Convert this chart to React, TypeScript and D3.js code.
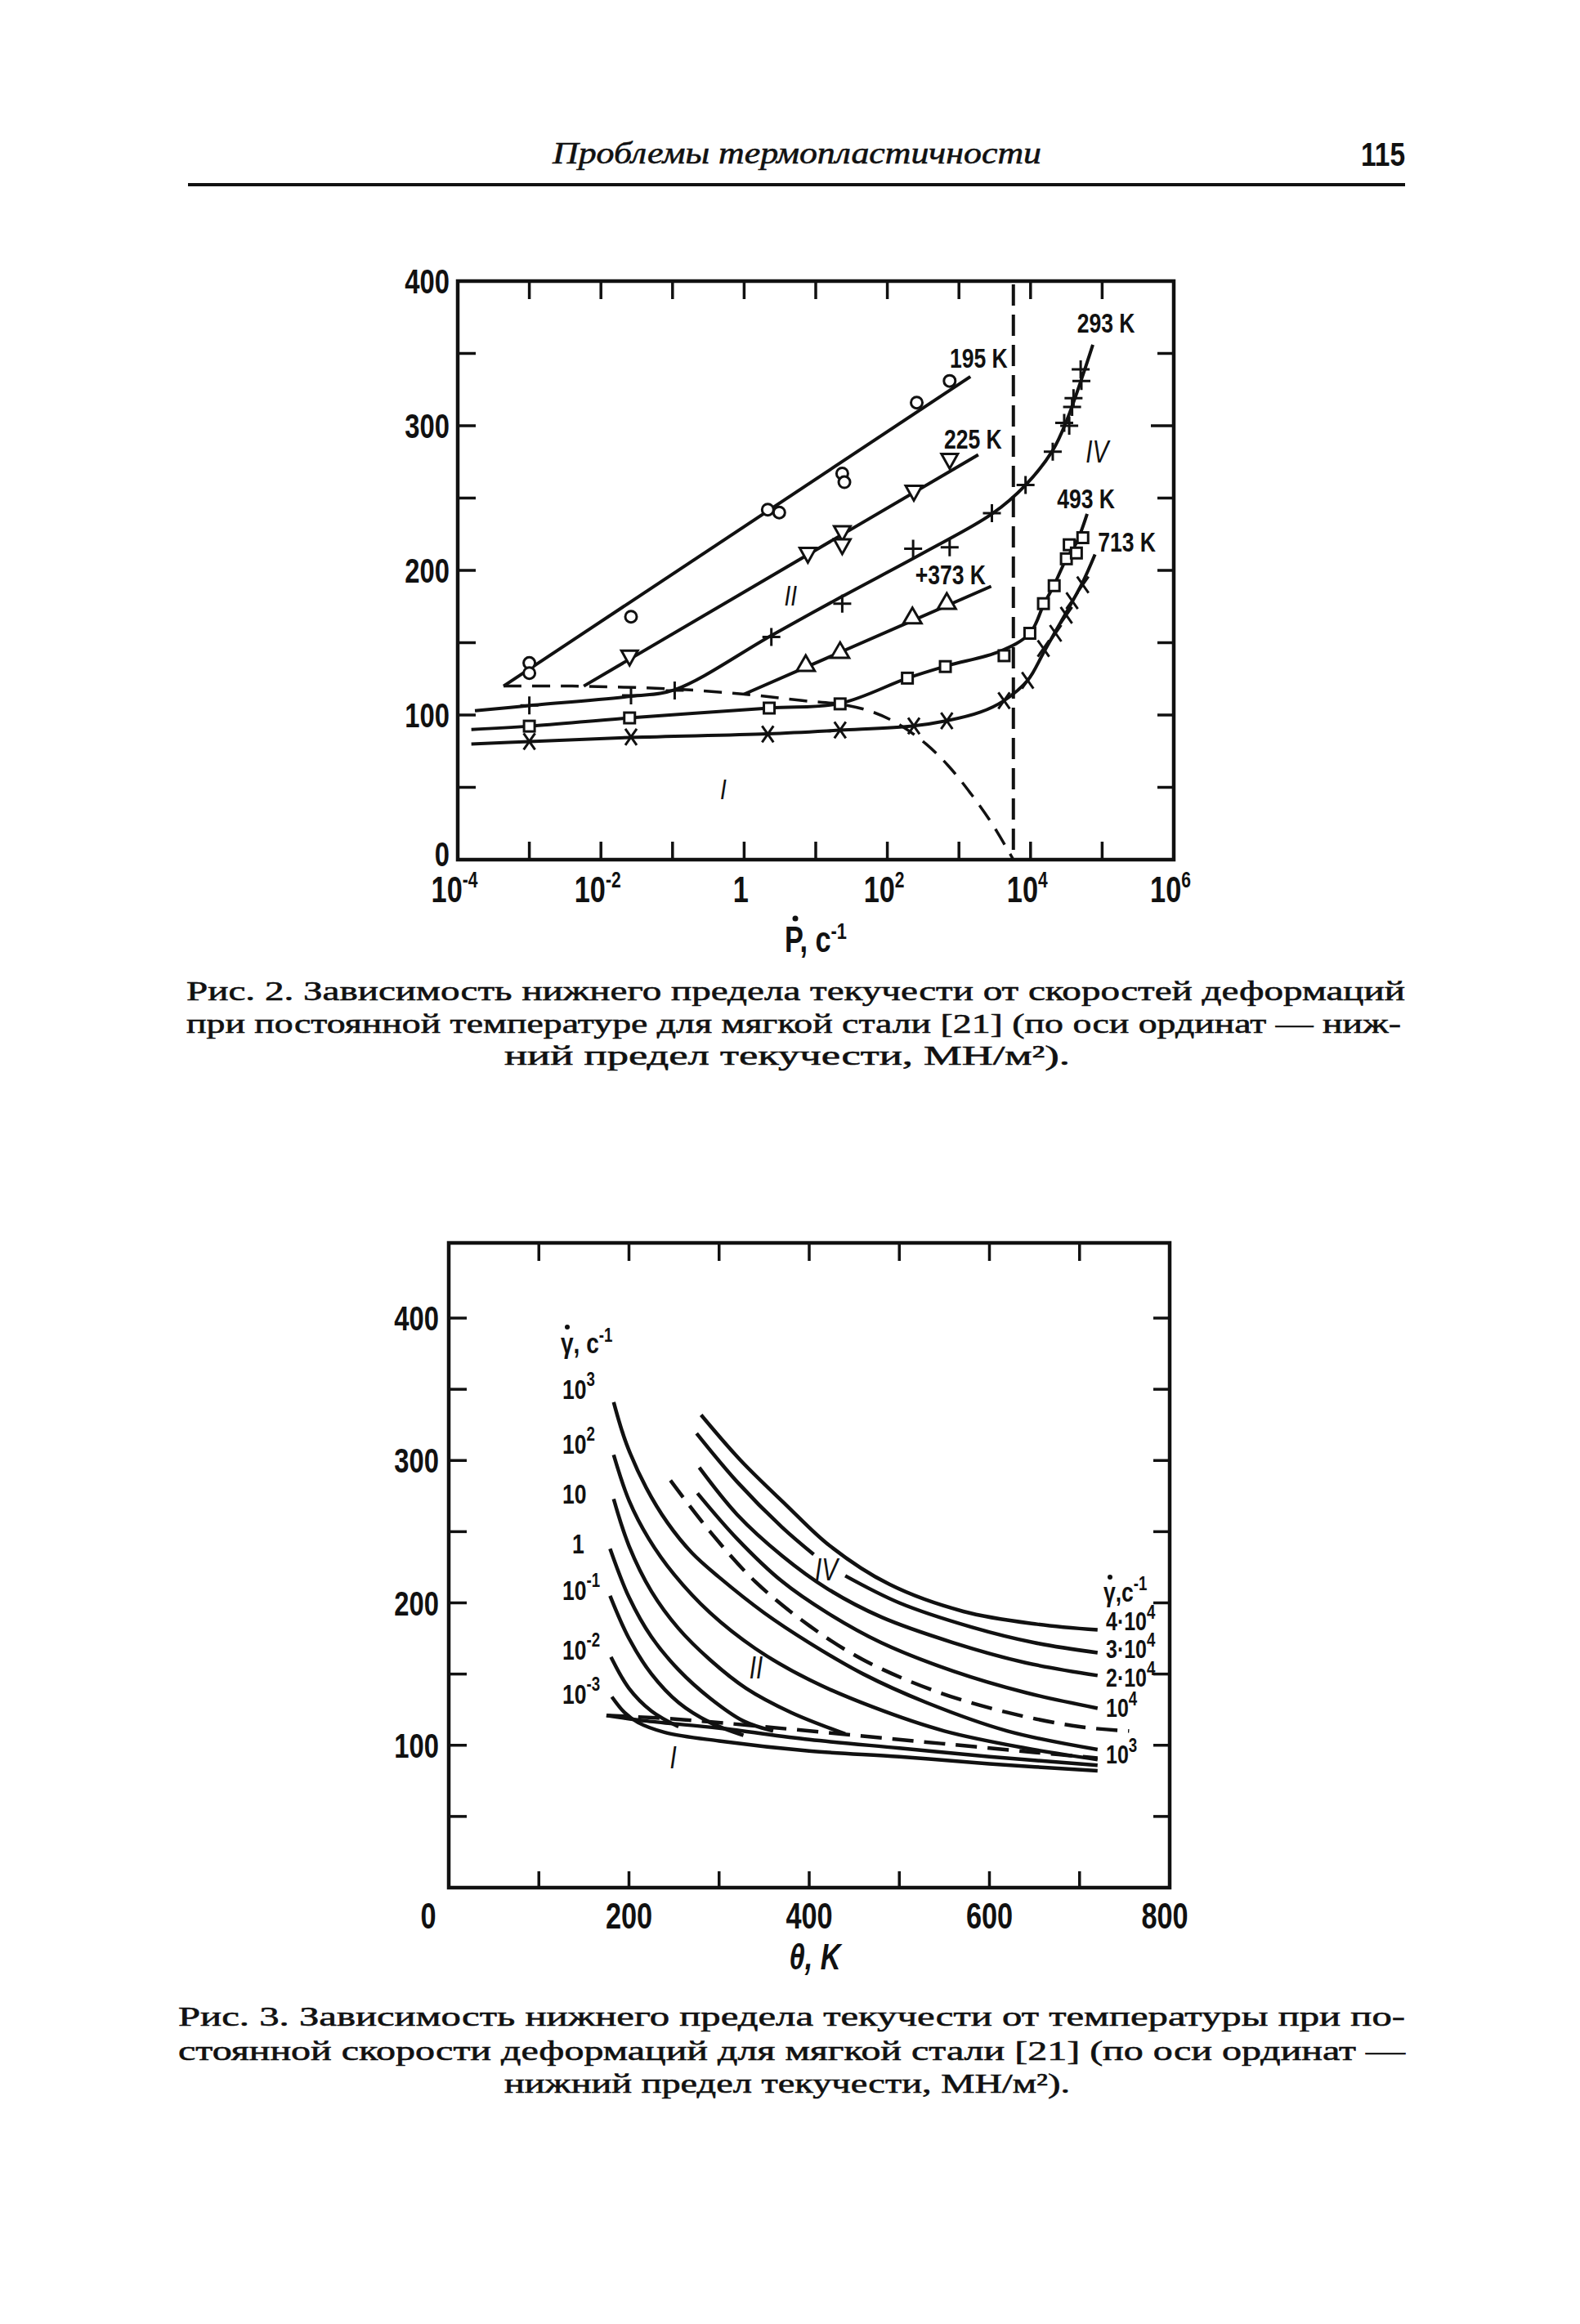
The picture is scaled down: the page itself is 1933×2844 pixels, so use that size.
import React from 'react';
import * as d3 from 'd3';

type P = [number, number];

// ---------------- Fig. 2 data (log10 of strain rate, yield stress MN/m2) ----------------
const fig2XTicks = [-4, -3, -2, -1, 0, 1, 2, 3, 4, 5, 6];
const fig2XLabels: [number, string, string][] = [[-4, '10', '-4'], [-2, '10', '-2'], [0, '1', ''], [2, '10', '2'], [4, '10', '4'], [6, '10', '6']];
const fig2YTicks = [50, 100, 150, 200, 250, 300, 350];
const fig2YLabels = [0, 100, 200, 300, 400];

const pts195: P[] = [[-3, 136], [-3, 129], [-1.58, 168], [0.33, 242], [0.49, 240], [1.37, 267], [1.4, 261], [2.41, 316], [2.87, 331]];
const line195: P[] = [[-3.36, 120], [3.16, 334]];
const pts225: P[] = [[-1.6, 140], [0.89, 211], [1.37, 226], [1.37, 217], [2.37, 254], [2.87, 276]];
const line225: P[] = [[-2.24, 120], [3.27, 280]];
const pts293: P[] = [[-3, 106.7], [-1.58, 113.5], [-0.97, 117], [0.38, 154], [1.37, 177], [2.36, 215], [2.87, 216], [3.46, 239.5], [3.93, 259], [4.31, 282], [4.47, 302], [4.54, 300], [4.58, 313], [4.6, 319], [4.71, 331], [4.7, 339]];
const line293: P[] = [[-3.76, 103], [-3, 106.5], [-1.58, 113], [-0.97, 117.5], [0.38, 155], [1.37, 182], [2.5, 212], [3.46, 239], [3.93, 259], [4.31, 283], [4.5, 303], [4.71, 332], [4.87, 356]];
const pts373: P[] = [[0.86, 135], [1.34, 144], [2.35, 168], [2.83, 178]];
const line373: P[] = [[0, 114.4], [3.45, 189]];
const pts493: P[] = [[-3, 92.3], [-1.6, 98], [0.35, 104.8], [1.34, 107.7], [2.28, 125.5], [2.81, 133.5], [3.63, 141], [3.99, 156.5], [4.18, 177], [4.33, 189.4], [4.5, 208], [4.54, 217.7], [4.64, 212], [4.73, 222.6]];
const line493: P[] = [[-3.81, 90], [-3, 92.3], [-1.6, 98], [0.35, 104.8], [1.34, 108], [2.28, 125.5], [2.83, 134], [3.57, 144], [3.99, 156.5], [4.18, 176], [4.33, 190], [4.5, 208], [4.64, 219], [4.79, 239]];
const pts713: P[] = [[-3, 81.7], [-1.58, 84.8], [0.33, 86.8], [1.34, 89.6], [2.37, 92.4], [2.83, 96], [3.63, 110], [3.96, 124], [4.18, 146], [4.35, 156.5], [4.5, 169], [4.58, 179], [4.73, 190]];
const line713: P[] = [[-3.81, 80], [-3, 81.7], [-1.58, 84.5], [0.33, 87], [1.34, 89.5], [2.37, 92.5], [2.83, 96], [3.3, 102], [3.63, 110], [3.96, 124], [4.18, 143], [4.35, 158], [4.5, 171], [4.73, 192], [4.9, 211]];
const boundaryI: P[] = [[-3.36, 120], [-2.4, 120], [-1, 118], [0, 114.4], [0.81, 110], [1.37, 107.3], [1.8, 102], [2.18, 93], [2.54, 80], [2.85, 65], [3.16, 46], [3.46, 25], [3.76, 0]];
const criticalRate = 3.76;

// ---------------- Fig. 3 data (temperature K, yield stress MN/m2) ----------------
const fig3XTicks = [100, 200, 300, 400, 500, 600, 700];
const fig3XLabels = [0, 200, 400, 600, 800];
const fig3YTicks = [50, 100, 150, 200, 250, 300, 350, 400];
const fig3YLabels = [100, 200, 300, 400];

const g4e4: P[] = [[280, 332], [324, 300], [374, 269], [423, 240], [489, 213], [571, 194], [653, 185], [720, 181]];
const g3e4a: P[] = [[275, 319], [320, 285], [370, 253], [405, 234]];
const g3e4b: P[] = [[440, 219], [500, 200], [580, 183], [650, 172], [720, 165]];
const g2e4: P[] = [[278, 295], [320, 262], [370, 233], [420, 210], [480, 190], [560, 172], [640, 158], [720, 149]];
const g1e4: P[] = [[276, 277], [320, 245], [370, 215], [420, 193], [480, 172], [560, 152], [640, 137], [720, 126]];
const gDash: P[] = [[246, 286], [290, 250], [340, 215], [400, 184], [460, 160], [540, 138], [620, 123], [700, 113], [755, 110]];
const g1e3: P[] = [[183, 341], [197, 312], [219, 281], [243, 256], [270, 235], [300, 218], [350, 193], [400, 172], [460, 150], [530, 130], [620, 110], [720, 97]];
const g1e2: P[] = [[183, 304], [200, 272], [222, 245], [250, 220], [290, 193], [340, 168], [400, 146], [470, 127], [550, 110], [640, 98], [720, 90]];
const g1e1: P[] = [[183, 273], [200, 240], [225, 208], [255, 182], [290, 160], [330, 140], [380, 123], [440, 108]];
const g1e0: P[] = [[179, 238], [200, 204], [225, 176], [255, 153], [290, 133], [327, 117], [360, 110]];
const g1em1: P[] = [[179, 205], [200, 175], [225, 150], [255, 130], [290, 116], [327, 107]];
const g1em2: P[] = [[180, 162], [200, 140], [225, 124], [255, 113]];
const g1em3: P[] = [[181, 134], [195, 123], [210, 116], [240, 109], [300, 103], [400, 96], [500, 92], [600, 87], [720, 82]];
const gI2: P[] = [[175, 121], [220, 117], [300, 112], [400, 104], [500, 98], [600, 92], [720, 86]];
const gIdash: P[] = [[175, 121], [260, 118], [350, 113], [450, 107], [550, 101], [650, 95], [720, 91]];

const leftRateLabels: [string, string][] = [['10', '3'], ['10', '2'], ['10', ''], ['1', ''], ['10', '-1'], ['10', '-2'], ['10', '-3']];
const leftRateValues = [343, 305, 270, 235, 202, 160, 129];
const rightRateLabels: [string, string][] = [['4·10', '4'], ['3·10', '4'], ['2·10', '4'], ['10', '4'], ['10', '3']];
const rightRateValues = [181, 161, 141, 120, 87];

const caption2 = [
  'Рис. 2. Зависимость нижнего предела текучести от скоростей деформаций',
  'при постоянной температуре для мягкой стали [21] (по оси ординат — ниж-',
  'ний предел текучести, МН/м²).',
];
const caption3 = [
  'Рис. 3. Зависимость нижнего предела текучести от температуры при по-',
  'стоянной скорости деформаций для мягкой стали [21] (по оси ординат —',
  'нижний предел текучести, МН/м²).',
];

const SANS = "'Liberation Sans', Arial, sans-serif";
const SERIF = "'Liberation Serif', 'DejaVu Serif', serif";
const INK = '#111';

function T(props: { x: number; y: number; size: number; sx?: number; anchor?: string; italic?: boolean; family?: string; weight?: string; children: any; }) {
  const { x, y, size, sx = 0.78, anchor = 'start', italic = false, family = SANS, weight = 'bold', children } = props;
  return (
    <text transform={`translate(${x},${y}) scale(${sx},1)`} fontSize={size} textAnchor={anchor as any}
      fontFamily={family} fontStyle={italic ? 'italic' : 'normal'} fontWeight={weight} fill={INK}>{children}</text>
  );
}

function Marker({ kind, x, y }: { kind: string; x: number; y: number }) {
  const sw = 3;
  if (kind === 'circle') return <circle cx={x} cy={y} r={7} fill="#fff" stroke={INK} strokeWidth={sw} />;
  if (kind === 'tdown') return <path d={`M${x - 10},${y - 8}L${x + 10},${y - 8}L${x},${y + 10}Z`} fill="#fff" stroke={INK} strokeWidth={sw} />;
  if (kind === 'tup') return <path d={`M${x - 11},${y + 8}L${x + 11},${y + 8}L${x},${y - 11}Z`} fill="#fff" stroke={INK} strokeWidth={sw} />;
  if (kind === 'square') return <rect x={x - 6.5} y={y - 6.5} width={13} height={13} fill="#fff" stroke={INK} strokeWidth={sw} />;
  if (kind === 'plus') return <path d={`M${x - 11},${y}L${x + 11},${y}M${x},${y - 11}L${x},${y + 11}`} stroke={INK} strokeWidth={sw} fill="none" />;
  return <path d={`M${x - 7},${y - 10}L${x + 7},${y + 10}M${x + 7},${y - 10}L${x - 7},${y + 10}`} stroke={INK} strokeWidth={sw} fill="none" />;
}

export default function App() {
  const W = 1933, H = 2844;

  // Fig. 2 scales
  const x2 = d3.scaleLinear().domain([-4, 6]).range([560, 1436]);
  const y2 = d3.scaleLinear().domain([0, 400]).range([1052, 344]);
  const l2 = d3.line<P>().x(d => x2(d[0])).y(d => y2(d[1])).curve(d3.curveCatmullRom.alpha(0.5));

  // Fig. 3 scales
  const x3 = d3.scaleLinear().domain([0, 800]).range([549, 1431]);
  const y3 = d3.scaleLinear().domain([0, 400]).range([2310, 1613]);
  const top3 = 1521;
  const l3 = d3.line<P>().x(d => x3(d[0])).y(d => y3(d[1])).curve(d3.curveCatmullRom.alpha(0.5));

  const series2: { line: P[]; pts: P[]; kind: string }[] = [
    { line: line195, pts: pts195, kind: 'circle' },
    { line: line225, pts: pts225, kind: 'tdown' },
    { line: line293, pts: pts293, kind: 'plus' },
    { line: line373, pts: pts373, kind: 'tup' },
    { line: line493, pts: pts493, kind: 'square' },
    { line: line713, pts: pts713, kind: 'cross' },
  ];

  const solid3 = [g4e4, g3e4a, g3e4b, g2e4, g1e4, g1e3, g1e2, g1e1, g1e0, g1em1, g1em2, g1em3, gI2];

  const [xl2, xr2] = x2.range();
  const [yb2, yt2] = y2.range();
  const [xl3, xr3] = x3.range();
  const yb3 = y3(0);

  const capStyle = { fontSize: 34, fontFamily: SERIF, fill: INK, stroke: INK, strokeWidth: 0.6 } as any;

  return (
    <svg width={W} height={H} viewBox={`0 0 ${W} ${H}`} style={{ position: 'absolute', left: 0, top: 0, background: '#fff' }}>
      <rect x={0} y={0} width={W} height={H} fill="#fff" />

      {/* running head */}
      <text x={975} y={200} fontSize={38} fontFamily={SERIF} fontStyle="italic" textAnchor="middle" fill={INK}
        stroke={INK} strokeWidth={0.6} textLength={598} lengthAdjust="spacingAndGlyphs">Проблемы термопластичности</text>
      <text x={1719} y={203} fontSize={40} fontFamily={SANS} fontWeight="bold" textAnchor="end" fill={INK}
        textLength={54} lengthAdjust="spacingAndGlyphs">115</text>
      <line x1={230} x2={1719} y1={226} y2={226} stroke={INK} strokeWidth={4} />

      {/* ============ Fig. 2 ============ */}
      <g>
        <rect x={xl2} y={yt2} width={xr2 - xl2} height={yb2 - yt2} fill="none" stroke={INK} strokeWidth={4.5} />
        {fig2XTicks.slice(1, -1).map(t => (
          <g key={'xt' + t}>
            <line x1={x2(t)} x2={x2(t)} y1={yb2} y2={yb2 - 22} stroke={INK} strokeWidth={3.5} />
            <line x1={x2(t)} x2={x2(t)} y1={yt2} y2={yt2 + 22} stroke={INK} strokeWidth={3.5} />
          </g>
        ))}
        {fig2YTicks.map(t => (
          <g key={'yt' + t}>
            <line x1={xl2} x2={xl2 + 22} y1={y2(t)} y2={y2(t)} stroke={INK} strokeWidth={3.5} />
            <line x1={xr2} x2={xr2 - (t === 300 ? 28 : 20)} y1={y2(t)} y2={y2(t)} stroke={INK} strokeWidth={3.5} />
          </g>
        ))}
        {fig2YLabels.map(t => (
          <T key={'yl' + t} x={xl2 - 10} y={y2(t) + (t === 0 ? 8 : 15)} size={42} anchor="end">{String(t)}</T>
        ))}
        {fig2XLabels.map(([t, base, exp]) => (
          <T key={'xl' + t} x={x2(t) - 4} y={1104} size={44} anchor="middle">
            {base}<tspan dy={-18} fontSize={27}>{exp}</tspan>
          </T>
        ))}
        {/* axis title */}
        <T x={960} y={1165} size={44}>P, c<tspan dy={-16} fontSize={28}>-1</tspan></T>
        <circle cx={973} cy={1124} r={3.5} fill={INK} />

        {/* critical vertical dashed */}
        <line x1={x2(criticalRate)} x2={x2(criticalRate)} y1={yt2 + 4} y2={yb2} stroke={INK} strokeWidth={4} strokeDasharray="26 11" />
        {/* dashed boundary of region I */}
        <path d={l2(boundaryI) || ''} fill="none" stroke={INK} strokeWidth={3.5} strokeDasharray="22 13" />

        {series2.map((s, i) => (
          <g key={'s' + i}>
            <path d={l2(s.line) || ''} fill="none" stroke={INK} strokeWidth={4} />
            {s.pts.map((p, j) => <Marker key={j} kind={s.kind} x={x2(p[0])} y={y2(p[1])} />)}
          </g>
        ))}

        {/* series labels */}
        <T x={x2(3.68)} y={y2(347) + 12} size={34} anchor="end">195 K</T>
        <T x={x2(3.6)} y={y2(291) + 12} size={34} anchor="end">225 K</T>
        <T x={x2(2.39)} y={y2(197) + 12} size={34}>+373 K</T>
        <T x={x2(4.65)} y={y2(371) + 12} size={34}>293 K</T>
        <T x={x2(4.37)} y={y2(250) + 12} size={34}>493 K</T>
        <T x={x2(4.94)} y={y2(220) + 12} size={34}>713 K</T>
        <T x={x2(-0.29)} y={y2(49) + 13} size={36} italic weight="normal" anchor="middle">I</T>
        <T x={x2(0.65)} y={y2(183) + 13} size={36} italic weight="normal" anchor="middle">II</T>
        <T x={x2(4.93)} y={y2(282) + 13} size={38} italic weight="normal" anchor="middle">IV</T>
      </g>

      {/* caption Fig. 2 */}
      <text x={228} y={1224} {...capStyle} textLength={1491} lengthAdjust="spacingAndGlyphs">{caption2[0]}</text>
      <text x={228} y={1264} {...capStyle} textLength={1486} lengthAdjust="spacingAndGlyphs">{caption2[1]}</text>
      <text x={617} y={1303} {...capStyle} textLength={692} lengthAdjust="spacingAndGlyphs">{caption2[2]}</text>

      {/* ============ Fig. 3 ============ */}
      <g>
        <rect x={xl3} y={top3} width={xr3 - xl3} height={yb3 - top3} fill="none" stroke={INK} strokeWidth={4.5} />
        {fig3XTicks.map(t => (
          <g key={'xt3' + t}>
            <line x1={x3(t)} x2={x3(t)} y1={yb3} y2={yb3 - 20} stroke={INK} strokeWidth={3.5} />
            <line x1={x3(t)} x2={x3(t)} y1={top3} y2={top3 + 22} stroke={INK} strokeWidth={3.5} />
          </g>
        ))}
        {fig3YTicks.map(t => (
          <g key={'yt3' + t}>
            <line x1={xl3} x2={xl3 + 22} y1={y3(t)} y2={y3(t)} stroke={INK} strokeWidth={3.5} />
            <line x1={xr3} x2={xr3 - 20} y1={y3(t)} y2={y3(t)} stroke={INK} strokeWidth={3.5} />
          </g>
        ))}
        {fig3YLabels.map(t => (
          <T key={'yl3' + t} x={xl3 - 12} y={y3(t) + 15} size={42} anchor="end">{String(t)}</T>
        ))}
        {fig3XLabels.map(t => (
          <T key={'xl3' + t} x={t === 0 ? 524 : t === 800 ? x3(t) - 6 : x3(t)} y={2360} size={44} anchor="middle">{String(t)}</T>
        ))}
        <T x={997} y={2410} size={44} anchor="middle" italic>θ, K</T>

        {solid3.map((c, i) => <path key={'c' + i} d={l3(c) || ''} fill="none" stroke={INK} strokeWidth={4.5} />)}
        <path d={l3(gDash) || ''} fill="none" stroke={INK} strokeWidth={4.5} strokeDasharray="26 13" />
        <path d={l3(gIdash) || ''} fill="none" stroke={INK} strokeWidth={4.5} strokeDasharray="26 13" />

        {/* left legend */}
        <T x={686} y={1656} size={36}>γ, c<tspan dy={-14} fontSize={24}>-1</tspan></T>
        <circle cx={694} cy={1624} r={3} fill={INK} />
        {leftRateLabels.map(([b, e], i) => (
          <T key={'ll' + i} x={b === '1' ? 700 : 688} y={y3(leftRateValues[i])} size={34}>
            {b}<tspan dy={-16} fontSize={24}>{e}</tspan>
          </T>
        ))}
        {/* right legend */}
        <T x={1350} y={1960} size={34}>γ,c<tspan dy={-14} fontSize={24}>-1</tspan></T>
        <circle cx={1358} cy={1930} r={3} fill={INK} />
        {rightRateLabels.map(([b, e], i) => (
          <T key={'rl' + i} x={1353} y={y3(rightRateValues[i])} size={32}>
            {b}<tspan dy={-14} fontSize={24}>{e}</tspan>
          </T>
        ))}
        <T x={x3(419)} y={y3(224) + 14} size={38} italic weight="normal" anchor="middle">IV</T>
        <T x={x3(341)} y={y3(155) + 14} size={38} italic weight="normal" anchor="middle">II</T>
        <T x={x3(249)} y={y3(92) + 14} size={38} italic weight="normal" anchor="middle">I</T>
      </g>

      {/* caption Fig. 3 */}
      <text x={218} y={2479} {...capStyle} textLength={1501} lengthAdjust="spacingAndGlyphs">{caption3[0]}</text>
      <text x={218} y={2521} {...capStyle} textLength={1501} lengthAdjust="spacingAndGlyphs">{caption3[1]}</text>
      <text x={617} y={2561} {...capStyle} textLength={692} lengthAdjust="spacingAndGlyphs">{caption3[2]}</text>
    </svg>
  );
}
